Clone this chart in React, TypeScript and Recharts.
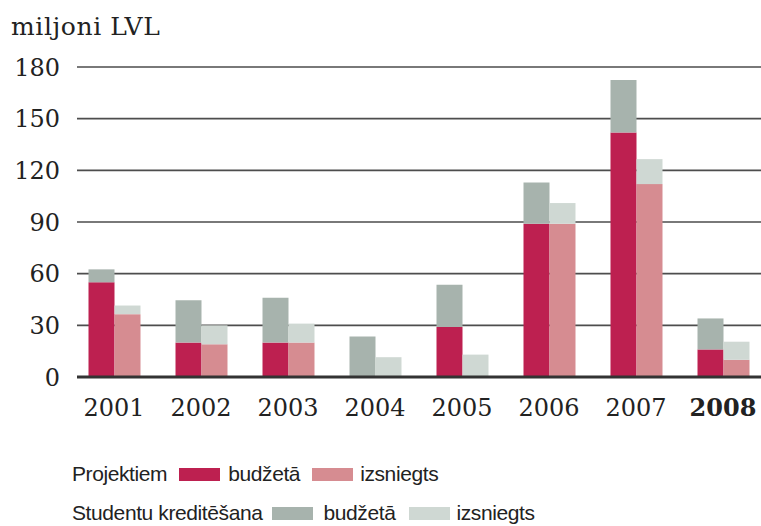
import { Bar, BarChart, CartesianGrid, XAxis, YAxis } from "recharts";

const years = ["2001", "2002", "2003", "2004", "2005", "2006", "2007", "2008"];
const projektiemBudzeta = [55, 20, 20, 0, 29, 89, 142, 16];
const projektiemIzsniegts = [36.5, 19, 20, 0, 0, 89, 112, 10];
const studentuBudzeta = [7.5, 24.5, 26, 23.5, 24.5, 24, 30.5, 18];
const studentuIzsniegts = [5, 11, 11, 11.5, 13, 12, 14.5, 10.5];
const yTicks = [0, 30, 60, 90, 120, 150, 180];

const colors = {
  projBud: "#bd2050",
  projIzs: "#d68c91",
  studBud: "#a7b3ad",
  studIzs: "#cfd8d3",
};

const data = years.map((year, i) => ({
  year,
  projBud: projektiemBudzeta[i],
  projIzs: projektiemIzsniegts[i],
  studBud: studentuBudzeta[i],
  studIzs: studentuIzsniegts[i],
}));

const serif = "'DejaVu Serif', serif";
const sans = "'Liberation Sans', Arial, sans-serif";

function YearTick(props: any) {
  const { x, y, payload } = props;
  const last = payload.value === years[years.length - 1];
  return (
    <text
      x={x}
      y={y}
      dy="0.71em"
      textAnchor="middle"
      fill="#222"
      fontFamily={serif}
      fontSize={24}
      fontWeight={last ? "bold" : "normal"}
    >
      {payload.value}
    </text>
  );
}

function Swatch({ color }: { color: string }) {
  return <span style={{ display: "inline-block", width: 41, height: 13, background: color }} />;
}

export default function App() {
  return (
    <div
      style={{
        position: "absolute",
        left: 0,
        top: 0,
        width: 761,
        height: 526,
        overflow: "hidden",
        background: "#fff",
      }}
    >
      <div
        style={{
          position: "absolute",
          left: 11,
          top: 12,
          fontFamily: serif,
          fontSize: 25,
          letterSpacing: 0.6,
          color: "#222",
        }}
      >
        miljoni LVL
      </div>
      <BarChart
        width={770}
        height={526}
        data={data}
        margin={{ top: 67, right: 0, left: 0, bottom: 109 }}
        barGap={0}
        barSize={26}
      >
        <CartesianGrid vertical={false} stroke="#4d4d4d" strokeWidth={1.6} />
        <XAxis
          dataKey="year"
          height={40}
          padding={{ left: -6.5, right: 3.5 }}
          tickLine={false}
          tickSize={0}
          tickMargin={22}
          axisLine={{ stroke: "#333", strokeWidth: 3 }}
          tick={<YearTick />}
        />
        <YAxis
          width={77}
          domain={[0, 180]}
          ticks={yTicks}
          axisLine={false}
          tickLine={false}
          tickSize={0}
          tickMargin={17}
          tick={{ fill: "#222", fontFamily: serif, fontSize: 24 }}
        />
        <Bar dataKey="projBud" stackId="b" fill={colors.projBud} isAnimationActive={false} />
        <Bar dataKey="projIzs" stackId="i" fill={colors.projIzs} isAnimationActive={false} />
        <Bar dataKey="studBud" stackId="b" fill={colors.studBud} isAnimationActive={false} />
        <Bar dataKey="studIzs" stackId="i" fill={colors.studIzs} isAnimationActive={false} />
      </BarChart>
      <div
        style={{
          position: "absolute",
          left: 72,
          top: 461,
          fontFamily: sans,
          fontSize: 21,
          letterSpacing: -0.4,
          color: "#222",
          lineHeight: "25px",
        }}
      >
        <div style={{ display: "flex", alignItems: "center" }}>
          <span>Projektiem</span>
          <span style={{ marginLeft: 12 }}><Swatch color={colors.projBud} /></span>
          <span style={{ marginLeft: 8 }}>budžetā</span>
          <span style={{ marginLeft: 12 }}><Swatch color={colors.projIzs} /></span>
          <span style={{ marginLeft: 7 }}>izsniegts</span>
        </div>
        <div style={{ display: "flex", alignItems: "center", marginTop: 14 }}>
          <span>Studentu kreditēšana</span>
          <span style={{ marginLeft: 10 }}><Swatch color={colors.studBud} /></span>
          <span style={{ marginLeft: 10 }}>budžetā</span>
          <span style={{ marginLeft: 14 }}><Swatch color={colors.studIzs} /></span>
          <span style={{ marginLeft: 6 }}>izsniegts</span>
        </div>
      </div>
    </div>
  );
}
